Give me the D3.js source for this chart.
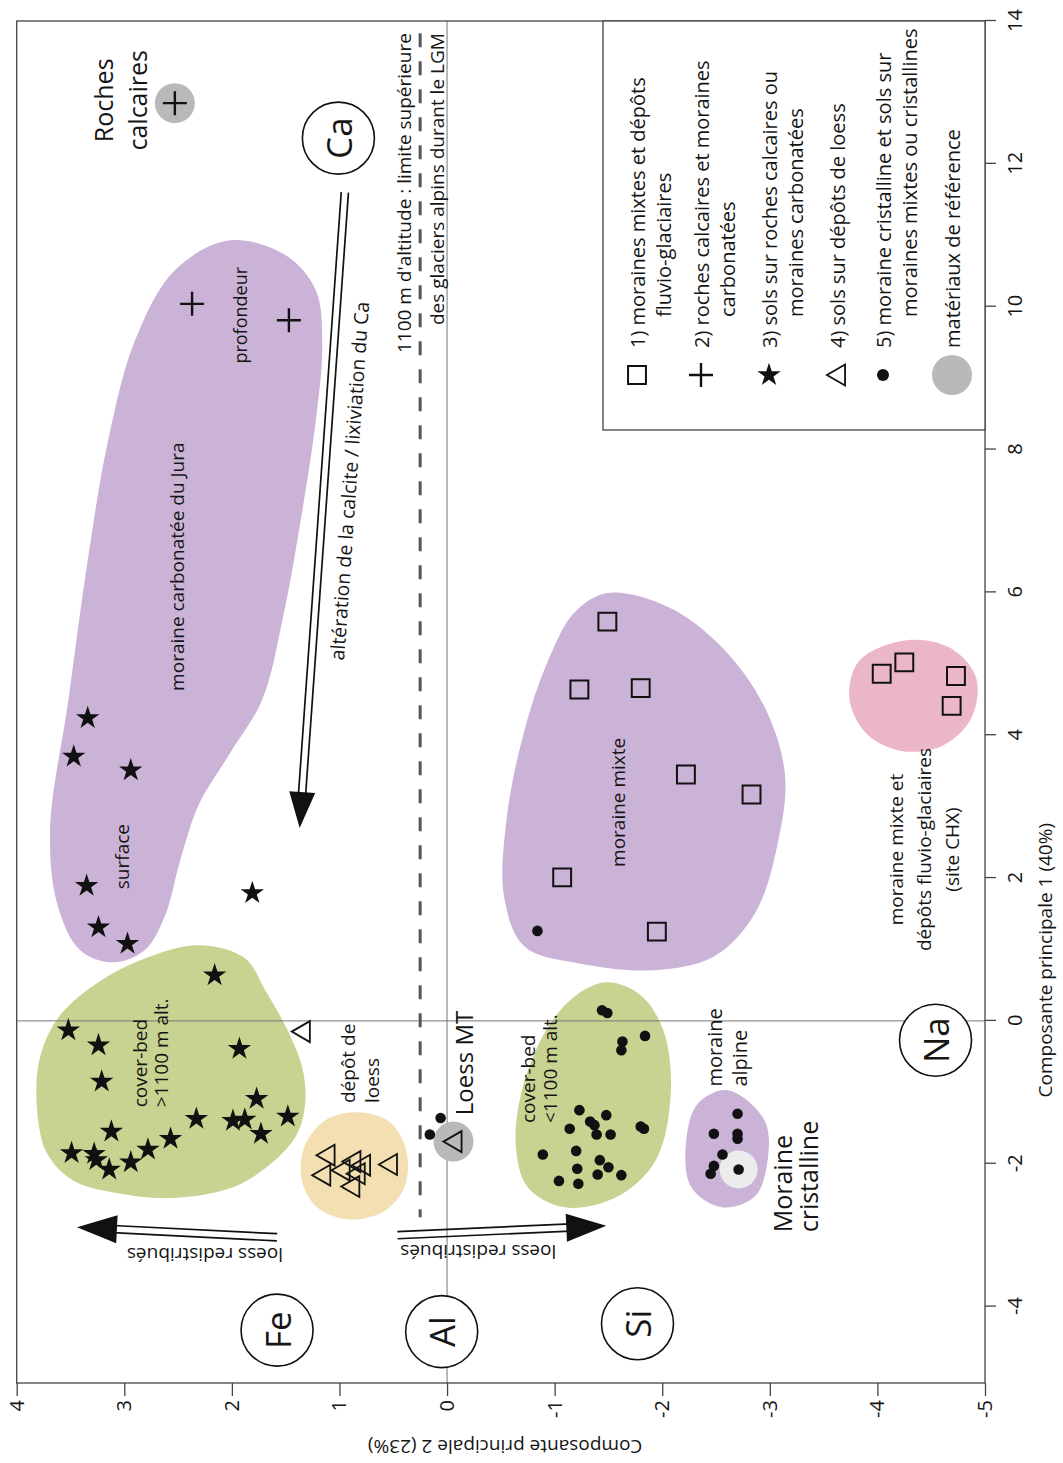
<!DOCTYPE html>
<html>
<head>
<meta charset="utf-8">
<script src="https://cdn.jsdelivr.net/npm/d3@7"></script>
<style>
  body { margin: 0; background: #fff; }
  text { font-family: "Open Sans", "Noto Sans", sans-serif; fill: #151515; }
</style>
</head>
<body>
<div id="chart"></div>
<script>
/* ===== DATA (PC1, PC2) ===== */
const pc1Ticks = [-4, -2, 0, 2, 4, 6, 8, 10, 12, 14];
const pc2Ticks = [-5, -4, -3, -2, -1, 0, 1, 2, 3, 4];

// 1) moraines mixtes et dépôts fluvio-glaciaires
const squaresMixte = [[5.59, -1.49], [4.64, -1.23], [4.66, -1.80], [3.45, -2.22], [3.17, -2.83], [2.01, -1.07], [1.25, -1.95]];
const squaresChx = [[4.86, -4.04], [5.02, -4.25], [4.83, -4.73], [4.41, -4.69]];
// 2) roches calcaires et moraines carbonatées
const plusPts = [[12.85, 2.53], [10.04, 2.37], [9.81, 1.47]];
// 3) sols sur roches calcaires ou moraines carbonatées
const starsJura = [[4.24, 3.34], [3.70, 3.47], [3.51, 2.94], [1.89, 3.35], [1.79, 1.81], [1.31, 3.24], [1.08, 2.97]];
const starsCover = [[0.64, 2.16], [-0.13, 3.52], [-0.34, 3.24], [-0.85, 3.21], [-0.39, 1.93], [-1.09, 1.77],
  [-1.34, 1.48], [-1.40, 1.99], [-1.38, 1.88], [-1.58, 1.73], [-1.37, 2.33], [-1.65, 2.57], [-1.80, 2.78],
  [-1.55, 3.12], [-1.85, 3.49], [-1.86, 3.28], [-1.95, 3.26], [-2.08, 3.14], [-1.98, 2.94]];
// 4) sols sur dépôts de loess
const trianglePts = [[-0.15, 1.35], [-1.88, 1.12], [-2.16, 1.16], [-2.09, 0.98], [-1.97, 0.88], [-2.02, 0.79],
  [-2.14, 0.84], [-2.32, 0.89], [-2.01, 0.54], [-1.69, -0.06]];
// 5) moraine cristalline et sols sur moraines mixtes ou cristallines
const dotPts = [[-1.36, 0.06], [-1.59, 0.16], [1.26, -0.84],
  [0.15, -1.44], [0.11, -1.49], [-0.21, -1.84], [-0.29, -1.63], [-0.41, -1.62], [-1.25, -1.23], [-1.32, -1.48],
  [-1.41, -1.33], [-1.46, -1.37], [-1.51, -1.14], [-1.59, -1.39], [-1.59, -1.52], [-1.48, -1.80], [-1.51, -1.83],
  [-1.87, -0.89], [-1.82, -1.20], [-1.95, -1.42], [-2.05, -1.50], [-2.07, -1.21], [-2.15, -1.40], [-2.16, -1.62],
  [-2.24, -1.04], [-2.28, -1.22],
  [-1.30, -2.70], [-1.58, -2.48], [-1.58, -2.70], [-1.65, -2.70], [-1.87, -2.56], [-2.03, -2.48], [-2.14, -2.45], [-2.08, -2.71]];
// matériaux de référence
const refPts = [[12.85, 2.53], [-1.69, -0.06]];
const refCristalline = [[-2.08, -2.71]];

// zones
const zoneJura = [[10.93, 2.02], [10.72, 1.50], [10.23, 1.22], [9.46, 1.16], [8.41, 1.22], [7.01, 1.36], [5.61, 1.53],
  [4.49, 1.72], [3.72, 2.03], [3.02, 2.31], [2.25, 2.48], [1.48, 2.62], [0.99, 2.81], [0.82, 3.11], [0.99, 3.41],
  [1.62, 3.62], [2.67, 3.69], [4.49, 3.52], [6.45, 3.34], [8.13, 3.15], [9.53, 2.90], [10.51, 2.53]];
const zoneCoverHigh = [[1.06, 2.30], [0.88, 1.88], [0.43, 1.69], [-0.20, 1.46], [-0.69, 1.34], [-1.18, 1.32],
  [-1.60, 1.40], [-1.99, 1.63], [-2.33, 1.99], [-2.48, 2.55], [-2.41, 3.07], [-2.23, 3.48], [-1.85, 3.72],
  [-1.25, 3.81], [-0.55, 3.79], [0.01, 3.63], [0.46, 3.32], [0.85, 2.85]];
const zoneLoess = [[-1.28, 0.83], [-1.42, 0.53], [-1.81, 0.38], [-2.30, 0.39], [-2.65, 0.57], [-2.78, 0.90],
  [-2.62, 1.20], [-2.23, 1.35], [-1.74, 1.32], [-1.39, 1.13]];
const zoneCoverLow = [[0.54, -1.49], [0.36, -1.80], [-0.13, -2.01], [-0.97, -2.08], [-1.95, -1.94], [-2.47, -1.57],
  [-2.61, -1.09], [-2.33, -0.75], [-1.77, -0.64], [-1.01, -0.69], [-0.13, -0.92], [0.36, -1.20]];
const zoneMixte = [[5.99, -1.49], [5.80, -2.05], [5.24, -2.55], [4.40, -2.95], [3.46, -3.14], [2.53, -3.08],
  [1.50, -2.86], [0.90, -2.48], [0.71, -1.93], [0.80, -1.24], [1.04, -0.72], [1.74, -0.53], [2.90, -0.56],
  [4.07, -0.72], [5.01, -0.93], [5.71, -1.18]];
const zoneChx = [[5.33, -4.27], [5.21, -4.69], [4.79, -4.92], [4.23, -4.87], [3.85, -4.60], [3.78, -4.22],
  [4.02, -3.90], [4.51, -3.74], [5.04, -3.83]];
const zoneAlpine = [[-0.97, -2.61], [-1.39, -2.95], [-1.95, -2.98], [-2.46, -2.86], [-2.61, -2.55], [-2.33, -2.27],
  [-1.72, -2.22], [-1.16, -2.33]];

// elements
const elements = [["Ca", 12.36, 1.01], ["Fe", -4.33, 1.58], ["Al", -4.35, 0.05], ["Si", -4.24, -1.77], ["Na", -0.27, -4.54]];

// arrows [from, to]
const arrowCa = [[11.60, 0.95], [2.70, 1.37]];
const arrowFe = [[-3.03, 1.58], [-2.89, 3.44]];
const arrowSi = [[-3.00, 0.46], [-2.87, -1.48]];

// 1100 m line
const lgmPc2 = 0.25;
const lgmPc1 = [13.83, -2.75];

/* ===== LAYOUT ===== */
const W = 1063, H = 1463;
const svg = d3.select("#chart").append("svg").attr("width", W).attr("height", H);
// the figure is drawn unrotated, then turned a quarter turn
const g = svg.append("g").attr("transform", `translate(0,${H}) rotate(-90)`);

const x = d3.scaleLinear().domain([-5.07, 14]).range([80, 1442]);
const y = d3.scaleLinear().domain([-5, 4]).range([985, 16.7]);

const purple = "#cbb3d8", green = "#c8d391", beige = "#f3dfb2", pink = "#ebb6c8";

/* ===== ZONES ===== */
const blob = d3.line().x(d => x(d[0])).y(d => y(d[1])).curve(d3.curveCatmullRomClosed.alpha(0.5));
[[zoneJura, purple], [zoneCoverHigh, green], [zoneLoess, beige], [zoneCoverLow, green],
 [zoneMixte, purple], [zoneChx, pink], [zoneAlpine, purple]].forEach(([pts, c]) => {
  g.append("path").attr("d", blob(pts)).attr("fill", c);
});

/* ===== FRAME + AXES ===== */
g.append("line").attr("x1", x(-5.07)).attr("x2", x(14)).attr("y1", y(0)).attr("y2", y(0))
  .attr("stroke", "#777").attr("stroke-width", 1);
g.append("line").attr("x1", x(0)).attr("x2", x(0)).attr("y1", y(4)).attr("y2", y(-5))
  .attr("stroke", "#777").attr("stroke-width", 1);

g.append("rect").attr("x", x(-5.07)).attr("y", y(4)).attr("width", x(14) - x(-5.07)).attr("height", y(-5) - y(4))
  .attr("fill", "none").attr("stroke", "#444").attr("stroke-width", 1.3);

const axX = g.append("g").attr("transform", `translate(0,${y(-5)})`)
  .call(d3.axisBottom(x).tickValues(pc1Ticks).tickSize(11).tickSizeOuter(0).tickPadding(12).tickFormat(d => String(d)));
const axY = g.append("g").attr("transform", `translate(${x(-5.07)},0)`)
  .call(d3.axisLeft(y).tickValues(pc2Ticks).tickSize(13).tickSizeOuter(0).tickPadding(4).tickFormat(d => String(d)));
[axX, axY].forEach(a => {
  a.select(".domain").remove();
  a.selectAll("line").attr("stroke", "#444").attr("stroke-width", 1.3);
  a.selectAll("text").attr("font-size", 20).attr("font-family", "Open Sans, sans-serif").attr("fill", "#222");
});

g.append("text").attr("x", x(0.85)).attr("y", 1045).attr("text-anchor", "middle")
  .attr("dominant-baseline", "central").attr("font-size", 19).text("Composante principale 1 (40%)");
g.append("text").attr("transform", `translate(16,${y(-0.54)}) rotate(-90)`).attr("text-anchor", "middle")
  .attr("dominant-baseline", "central").attr("font-size", 19).text("Composante principale 2 (23%)");

/* ===== 1100 m LINE ===== */
g.append("line").attr("x1", x(lgmPc1[0])).attr("x2", x(lgmPc1[1])).attr("y1", y(lgmPc2)).attr("y2", y(lgmPc2))
  .attr("stroke", "#555").attr("stroke-width", 3).attr("stroke-dasharray", "14 14");

/* ===== ARROWS ===== */
function doubleArrow(seg, headLen, headW) {
  const x0 = x(seg[0][0]), y0 = y(seg[0][1]), x1 = x(seg[1][0]), y1 = y(seg[1][1]);
  const len = Math.hypot(x1 - x0, y1 - y0);
  const ux = (x1 - x0) / len, uy = (y1 - y0) / len, px = -uy, py = ux;
  const bx = x1 - ux * headLen, by = y1 - uy * headLen;
  [-3.6, 3.6].forEach(o => {
    g.append("line").attr("x1", x0 + px * o).attr("y1", y0 + py * o)
      .attr("x2", bx + px * o + ux * 4).attr("y2", by + py * o + uy * 4)
      .attr("stroke", "#111").attr("stroke-width", 1.7);
  });
  g.append("path")
    .attr("d", `M${x1},${y1}L${bx + px * headW},${by + py * headW}L${bx - px * headW},${by - py * headW}Z`)
    .attr("fill", "#111");
}
doubleArrow(arrowCa, 36, 13);
doubleArrow(arrowFe, 40, 14);
doubleArrow(arrowSi, 40, 14);

/* ===== REFERENCE CIRCLES ===== */
g.selectAll(".ref").data(refPts).enter().append("circle")
  .attr("cx", d => x(d[0])).attr("cy", d => y(d[1])).attr("r", 20).attr("fill", "#b9b9b9");
g.selectAll(".refc").data(refCristalline).enter().append("circle")
  .attr("cx", d => x(d[0])).attr("cy", d => y(d[1])).attr("r", 19).attr("fill", "#ececec");

/* ===== POINTS ===== */
const sq = d3.symbol().type(d3.symbolSquare).size(320);
const tri = d3.symbol().type(d3.symbolTriangle).size(190);
const star = d3.symbol().type(d3.symbolStar).size(170);
const plusPath = "M-12,0H12M0,-12V12";

function drawSquares(pts) {
  g.append("g").selectAll("path").data(pts).enter().append("path")
    .attr("d", sq).attr("transform", d => `translate(${x(d[0])},${y(d[1])})`)
    .attr("fill", "none").attr("stroke", "#111").attr("stroke-width", 2);
}
drawSquares(squaresMixte);
drawSquares(squaresChx);

g.append("g").selectAll("path").data(plusPts).enter().append("path")
  .attr("d", plusPath).attr("transform", d => `translate(${x(d[0])},${y(d[1])})`)
  .attr("stroke", "#111").attr("stroke-width", 2.4);

g.append("g").selectAll("path").data(starsJura.concat(starsCover)).enter().append("path")
  .attr("d", star).attr("transform", d => `translate(${x(d[0])},${y(d[1])}) rotate(90)`)
  .attr("fill", "#111");

g.append("g").selectAll("path").data(trianglePts).enter().append("path")
  .attr("d", tri).attr("transform", d => `translate(${x(d[0])},${y(d[1]) + 2})`)
  .attr("fill", "none").attr("stroke", "#111").attr("stroke-width", 1.8);

g.append("g").selectAll("circle").data(dotPts).enter().append("circle")
  .attr("cx", d => x(d[0])).attr("cy", d => y(d[1])).attr("r", 5.3).attr("fill", "#111");

/* ===== ELEMENT CIRCLES ===== */
const el = g.append("g").selectAll("g").data(elements).enter().append("g")
  .attr("transform", d => `translate(${x(d[1])},${y(d[2])})`);
el.append("circle").attr("r", 36).attr("fill", "#fff").attr("stroke", "#111").attr("stroke-width", 1.6);
el.append("text").attr("text-anchor", "middle").attr("dominant-baseline", "central")
  .attr("font-size", 35).text(d => d[0]);

/* ===== LABELS ===== */
function label(pc1, pc2, lines, size, anchor, lh) {
  const t = g.append("text").attr("font-size", size).attr("text-anchor", anchor);
  lines.forEach((s, i) => {
    t.append("tspan").attr("x", x(pc1)).attr("y", y(pc2) + i * lh)
      .attr("dominant-baseline", "central").text(s);
  });
  return t;
}
label(12.89, 3.20, ["Roches", "calcaires"], 25, "middle", 34);
label(9.88, 1.92, ["profondeur"], 18, "middle", 22);
label(6.36, 2.51, ["moraine carbonatée du Jura"], 19, "middle", 22);
label(2.30, 3.02, ["surface"], 19, "middle", 22);
label(-1.21, 2.85, ["cover-bed", ">1100 m alt."], 19, "start", 21);
label(-1.15, 0.92, ["dépôt de", "loess"], 19, "start", 24);
label(-1.32, -0.15, ["Loess MT"], 24, "start", 24);
label(-1.43, -0.75, ["cover-bed", "<1100 m alt."], 19, "start", 22);
label(3.06, -1.59, ["moraine mixte"], 19, "middle", 22);
label(2.40, -4.17, ["moraine mixte et", "dépôts fluvio-glaciaires", "(site CHX)"], 19, "middle", 28);
label(-0.92, -2.49, ["moraine", "alpine"], 20, "start", 25);
label(-2.96, -3.11, ["Moraine", "cristalline"], 25, "start", 26);
label(13.83, 0.40, ["1100 m d'altitude : limite supérieure", "des glaciers alpins durant le LGM"], 19, "end", 33);

const altTxt = label(7.56, 0.91, ["altération de la calcite / lixiviation du Ca"], 19.5, "middle", 22);
altTxt.attr("transform", `rotate(4,${x(7.56)},${y(0.91)})`);

[[-3.28, 2.25], [-3.24, -0.29]].forEach(p => {
  g.append("text").attr("transform", `translate(${x(p[0])},${y(p[1])}) rotate(-90)`)
    .attr("text-anchor", "middle").attr("dominant-baseline", "central").attr("font-size", 19)
    .text("loess redistribués");
});

/* ===== LEGEND ===== */
const legendRows = [
  { sym: "square", lines: ["1) moraines mixtes et dépôts", "fluvio-glaciaires"], at: 637 },
  { sym: "plus", lines: ["2) roches calcaires et moraines", "carbonatées"], at: 701 },
  { sym: "star", lines: ["3) sols sur roches calcaires ou", "moraines carbonatées"], at: 769 },
  { sym: "triangle", lines: ["4) sols sur dépôts de loess"], at: 837 },
  { sym: "dot", lines: ["5) moraine cristalline et sols sur", "moraines mixtes ou cristallines"], at: 883 },
  { sym: "ref", lines: ["matériaux de référence"], at: 952 }
];
const lg = g.append("g");
lg.append("rect").attr("x", 1033).attr("y", 603).attr("width", x(14) - 1033).attr("height", y(-5) - 603)
  .attr("fill", "#fff").attr("stroke", "#444").attr("stroke-width", 1.3);
legendRows.forEach(r => {
  const sx = 1088, sy = r.at;
  if (r.sym === "square") lg.append("path").attr("d", sq).attr("transform", `translate(${sx},${sy})`)
    .attr("fill", "none").attr("stroke", "#111").attr("stroke-width", 2);
  if (r.sym === "plus") lg.append("path").attr("d", plusPath).attr("transform", `translate(${sx},${sy})`)
    .attr("stroke", "#111").attr("stroke-width", 2.4);
  if (r.sym === "star") lg.append("path").attr("d", star).attr("transform", `translate(${sx},${sy}) rotate(90)`)
    .attr("fill", "#111");
  if (r.sym === "triangle") lg.append("path").attr("d", tri).attr("transform", `translate(${sx},${sy + 2})`)
    .attr("fill", "none").attr("stroke", "#111").attr("stroke-width", 1.8);
  if (r.sym === "dot") lg.append("circle").attr("cx", sx).attr("cy", sy).attr("r", 6).attr("fill", "#111");
  if (r.sym === "ref") lg.append("circle").attr("cx", sx).attr("cy", sy).attr("r", 20).attr("fill", "#b9b9b9");
  r.lines.forEach((s, i) => {
    lg.append("text").attr("x", i === 0 ? 1115 : 1146).attr("y", sy + i * 26)
      .attr("dominant-baseline", "central").attr("font-size", 20).text(s);
  });
});
</script>
</body>
</html>
